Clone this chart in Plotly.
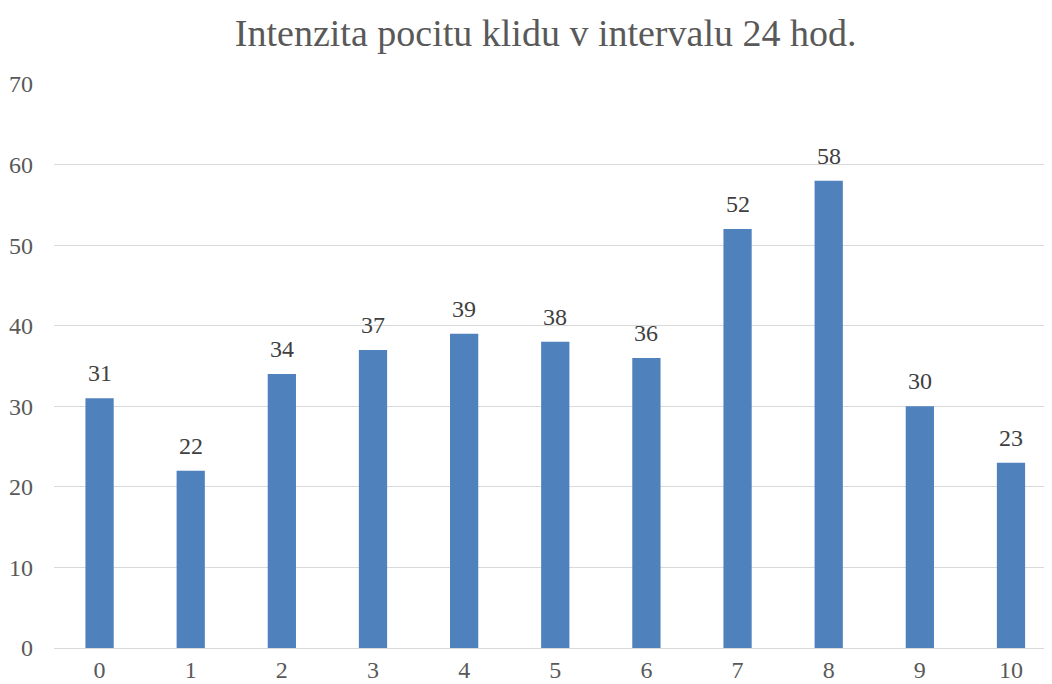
import plotly.graph_objects as go

categories = ["0", "1", "2", "3", "4", "5", "6", "7", "8", "9", "10"]
values = [31, 22, 34, 37, 39, 38, 36, 52, 58, 30, 23]
y_ticks = [0, 10, 20, 30, 40, 50, 60, 70]

font_family = "Liberation Serif, Times New Roman, serif"
text_color = "#595959"
label_color = "#404040"

xs = list(range(len(categories)))

fig = go.Figure(
    go.Bar(
        x=xs,
        y=values,
        width=0.31,
        marker=dict(color="#4F81BD", line=dict(width=0)),
        hoverinfo="x+y",
    )
)

for x, v in zip(xs, values):
    fig.add_annotation(
        x=x, y=v, text=str(v), showarrow=False,
        xanchor="center", yanchor="middle", yshift=25,
        font=dict(family=font_family, size=24, color=label_color),
    )

# page body has an 8px margin, so the figure is sized 8px smaller and margins reduced
fig.update_layout(
    width=1044,
    height=676,
    paper_bgcolor="white",
    plot_bgcolor="white",
    margin=dict(l=46, r=0, t=76, b=36, autoexpand=False),
    showlegend=False,
    title=dict(
        text="Intenzita pocitu klidu v intervalu 24 hod.",
        x=0.515,
        xanchor="center",
        y=0.963,
        yanchor="middle",
        font=dict(family=font_family, size=38, color=text_color),
    ),
    xaxis=dict(
        tickmode="array",
        tickvals=xs,
        ticktext=categories,
        range=[-0.5, 10.45],
        showgrid=False,
        zeroline=False,
        showline=False,
        ticks="",
        automargin=False,
        ticklabelstandoff=5,
        tickfont=dict(family=font_family, size=24, color=text_color),
    ),
    yaxis=dict(
        range=[0, 70],
        tickvals=y_ticks,
        showgrid=True,
        gridcolor="#D9D9D9",
        gridwidth=1.3,
        zeroline=True,
        zerolinecolor="#D9D9D9",
        zerolinewidth=1.3,
        showline=False,
        ticks="",
        automargin=False,
        ticklabelstandoff=20,
        tickfont=dict(family=font_family, size=24, color=text_color),
    ),
)

fig.write_html("out.html")
